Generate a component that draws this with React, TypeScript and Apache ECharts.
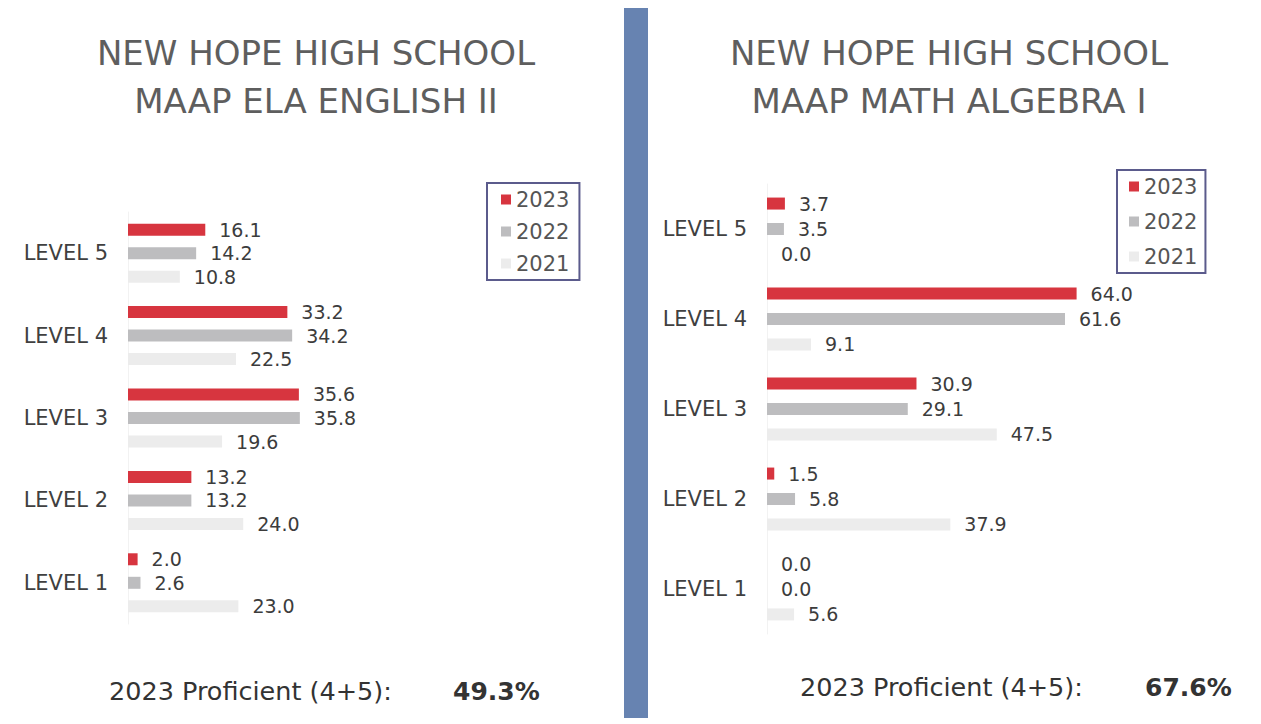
import React, { useEffect, useRef } from "react";
import * as echarts from "echarts";

const levels = ["LEVEL 5", "LEVEL 4", "LEVEL 3", "LEVEL 2", "LEVEL 1"];
const years = ["2023", "2022", "2021"];

const ela2023 = [16.1, 33.2, 35.6, 13.2, 2.0];
const ela2022 = [14.2, 34.2, 35.8, 13.2, 2.6];
const ela2021 = [10.8, 22.5, 19.6, 24.0, 23.0];

const math2023 = [3.7, 64.0, 30.9, 1.5, 0.0];
const math2022 = [3.5, 61.6, 29.1, 5.8, 0.0];
const math2021 = [0.0, 9.1, 47.5, 37.9, 5.6];

const elaTitle = "NEW HOPE HIGH SCHOOL\nMAAP ELA ENGLISH II";
const mathTitle = "NEW HOPE HIGH SCHOOL\nMAAP MATH ALGEBRA I";
const proficientLabel = "2023 Proficient (4+5):";
const elaProficient = "49.3%";
const mathProficient = "67.6%";

const colors = ["#d7353f", "#bdbdbf", "#ececec"];
const FONT = "'DejaVu Sans', sans-serif";

export default function App() {
  const ref = useRef<HTMLDivElement>(null);
  useEffect(() => {
    document.body.style.margin = "0";
    const chart = echarts.init(ref.current!, null, { renderer: "svg" });
    const mk = (name: string, data: number[], idx: number, ci: number, gap: string) => ({
      type: "bar",
      name,
      data,
      xAxisIndex: idx,
      yAxisIndex: idx,
      barWidth: 12,
      barGap: gap,
      itemStyle: { color: colors[ci] },
      label: {
        show: true,
        position: "right",
        distance: 14,
        formatter: (p: any) => Number(p.value).toFixed(1),
        color: "#3c3c3c",
        fontSize: 19,
        fontFamily: FONT,
      },
    });
    const catAxis = (idx: number) => ({
      type: "category",
      gridIndex: idx,
      data: levels,
      inverse: true,
      axisLine: { show: true, lineStyle: { color: "#f2f2f2" } },
      axisTick: { show: false },
      axisLabel: { color: "#404040", fontSize: 21, fontFamily: FONT, margin: 20 },
    });
    const valAxis = (idx: number, max: number) => ({
      type: "value",
      gridIndex: idx,
      min: 0,
      max,
      show: false,
      splitLine: { show: false },
    });
    const legend = (left: number, top: number, gap: number, pad: number[]) => ({
      data: years,
      orient: "vertical",
      left,
      top,
      icon: "rect",
      itemWidth: 10,
      itemHeight: 10,
      itemGap: gap,
      padding: pad,
      borderColor: "#5b5b8c",
      borderWidth: 2,
      textStyle: { color: "#555", fontSize: 21, fontFamily: FONT, lineHeight: 20 },
    });
    chart.setOption({
      animation: false,
      backgroundColor: "#ffffff",
      title: [
        {
          text: elaTitle,
          left: 311,
          top: 24,
          textAlign: "center",
          textStyle: { color: "#5e5e5e", fontSize: 34, fontWeight: "normal", fontFamily: FONT, lineHeight: 48 },
        },
        {
          text: mathTitle,
          left: 944,
          top: 24,
          textAlign: "center",
          textStyle: { color: "#5e5e5e", fontSize: 34, fontWeight: "normal", fontFamily: FONT, lineHeight: 48 },
        },
      ],
      legend: [legend(487, 183, 11, [6, 10, 6, 14]), legend(1117, 170, 14, [6, 8, 6, 12])],
      grid: [
        { left: 128, top: 212, width: 288, height: 412 },
        { left: 767, top: 184, width: 387, height: 450 },
      ],
      xAxis: [valAxis(0, 60), valAxis(1, 80)],
      yAxis: [catAxis(0), catAxis(1)],
      series: [
        mk("2023", ela2023, 0, 0, "96%"),
        mk("2022", ela2022, 0, 1, "96%"),
        mk("2021", ela2021, 0, 2, "96%"),
        mk("2023", math2023, 1, 0, "112%"),
        mk("2022", math2022, 1, 1, "112%"),
        mk("2021", math2021, 1, 2, "112%"),
      ],
      graphic: [
        { type: "rect", shape: { x: 624, y: 8, width: 24, height: 710 }, style: { fill: "#6783b1" } },
        {
          type: "text",
          x: 109,
          y: 691,
          style: { text: proficientLabel, fill: "#333", fontSize: 25.5, fontFamily: FONT, verticalAlign: "middle" },
        },
        {
          type: "text",
          x: 453,
          y: 691,
          style: { text: elaProficient, fill: "#333", fontSize: 25, fontWeight: "bold", fontFamily: FONT, verticalAlign: "middle" },
        },
        {
          type: "text",
          x: 800,
          y: 687,
          style: { text: proficientLabel, fill: "#333", fontSize: 25.5, fontFamily: FONT, verticalAlign: "middle" },
        },
        {
          type: "text",
          x: 1145,
          y: 687,
          style: { text: mathProficient, fill: "#333", fontSize: 25, fontWeight: "bold", fontFamily: FONT, verticalAlign: "middle" },
        },
      ],
    });
    return () => chart.dispose();
  }, []);
  return <div ref={ref} style={{ width: 1261, height: 724 }} />;
}
